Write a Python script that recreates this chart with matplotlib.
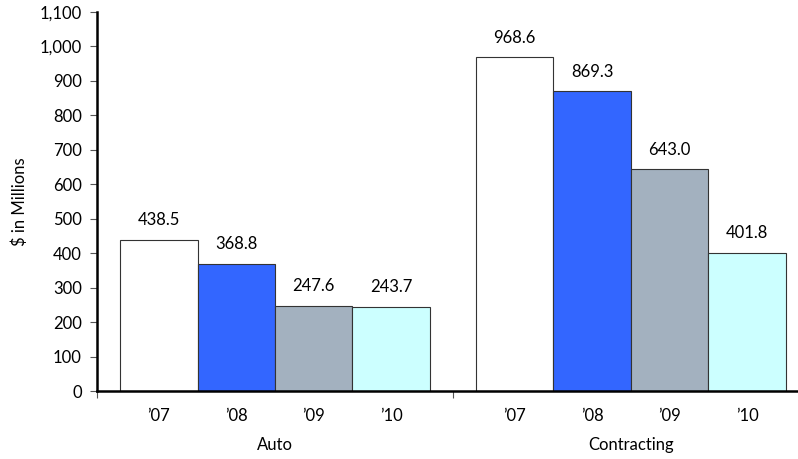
import matplotlib.pyplot as plt
import numpy as np

plt.rcParams['font.family'] = ['Lato', 'DejaVu Sans']

groups = ["Auto", "Contracting"]
years = ["\u201907", "\u201908", "\u201909", "\u201910"]
values = {
    "Auto": [438.5, 368.8, 247.6, 243.7],
    "Contracting": [968.6, 869.3, 643.0, 401.8],
}
colors = ["#FFFFFF", "#3366FF", "#A3B1BF", "#CCFFFF"]

fig = plt.figure(figsize=(7.98, 4.59), dpi=100)
# the plot area runs a little past the right edge, as in the original
ax = fig.add_axes([0.1216, 0.148, 0.892, 0.826])

margin = 23 / 356
bar_w = (1 - 2 * margin) / 4
centers = []
for g, name in enumerate(groups):
    for i, v in enumerate(values[name]):
        x = g + margin + bar_w * (i + 0.5)
        centers.append(x)
        ax.bar(x, v, width=bar_w, color=colors[i], edgecolor="#333333", linewidth=0.8, zorder=2)
        ax.text(x, v + 34, f"{v:.1f}", ha="center", va="bottom", fontsize=12)

ax.set_xlim(0, 2)
ax.set_ylim(0, 1100)
ax.set_yticks(np.arange(0, 1101, 100))
ax.set_yticklabels([f"{t:,}" for t in range(0, 1101, 100)], fontsize=12)
ax.set_ylabel("$ in Millions", fontsize=12, labelpad=8)

ax.set_xticks([0, 1, 2])
ax.set_xticklabels([])
ax.set_xticks(centers, minor=True)
ax.set_xticklabels(years * 2, minor=True, fontsize=12)
ax.tick_params(axis="x", which="minor", length=0, pad=12)
ax.tick_params(axis="x", which="major", length=5, color="#555555", direction="out")
ax.tick_params(axis="y", length=5, color="#555555", direction="out", pad=6)

for g, name in enumerate(groups):
    ax.text(g + 0.5, -0.143, name, transform=ax.get_xaxis_transform(), ha="center", va="center", fontsize=12)

for side in ["top", "right"]:
    ax.spines[side].set_visible(False)
ax.spines["left"].set_linewidth(1.8)
ax.spines["bottom"].set_linewidth(1.8)

fig.savefig("out.png", dpi=100)
